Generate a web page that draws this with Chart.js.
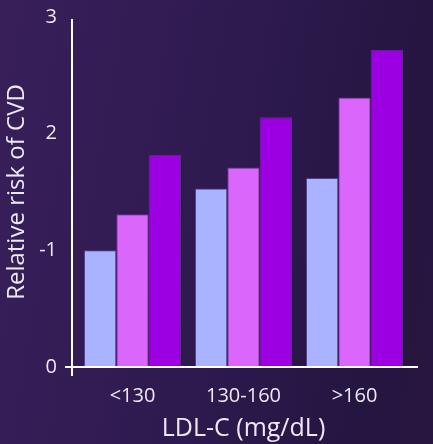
<!DOCTYPE html>
<html>
<head>
<meta charset="utf-8">
<script src="https://cdn.jsdelivr.net/npm/chart.js@4/dist/chart.umd.min.js"></script>
<style>
    html, body { margin: 0; padding: 0; }
    #wrap {
        width: 433px;
        height: 444px;
        background: linear-gradient(100deg, #381f5a 0%, #2e1a4f 50%, #251541 85%, #28163f 100%);
    }
</style>
</head>
<body>
<div id="wrap"><canvas id="chart" width="433" height="444"></canvas></div>
<script>
var categories = ["<130", "130-160", ">160"];
var seriesA = [1.0, 1.53, 1.62];
var seriesB = [1.31, 1.71, 2.31];
var seriesC = [1.82, 2.14, 2.72];
var yTickLabels = { 0: "0", 1: "-1", 2: "2", 3: "3" };

var fontFamily = "'Open Sans', sans-serif";
var textColor = "#ece8f4";

// Axis lines drawn slightly outside the plot area, like the original
const axisLines = {
    id: 'axisLines',
    afterDatasetsDraw: (chart) => {
        var { ctx, chartArea } = chart;
        var y = chart.scales.y;
        var x0 = chartArea.left - 5;
        var zero = y.getPixelForValue(0);
        ctx.save();
        ctx.strokeStyle = "#ffffff";
        ctx.lineWidth = 2;
        ctx.beginPath();
        ctx.moveTo(x0, y.getPixelForValue(3) + 2);
        ctx.lineTo(x0, zero + 9);
        ctx.moveTo(x0 - 7, zero);
        ctx.lineTo(chartArea.right + 8, zero);
        ctx.stroke();
        ctx.restore();
    }
};

new Chart(document.getElementById("chart"), {
    type: 'bar',
    data: {
        labels: categories,
        datasets: [
            { data: seriesA, backgroundColor: "#a9b3ff", borderColor: "rgba(110,90,170,0.6)", borderWidth: 1 },
            { data: seriesB, backgroundColor: "#da66fb", borderColor: "rgba(150,70,190,0.6)", borderWidth: 1 },
            { data: seriesC, backgroundColor: "#9c00e2", borderColor: "rgba(120,60,160,0.7)", borderWidth: 1 }
        ]
    },
    options: {
        responsive: false,
        animation: false,
        layout: { padding: { top: 17, right: 23, left: 0, bottom: 0 } },
        plugins: {
            legend: { display: false },
            tooltip: { enabled: false }
        },
        datasets: {
            bar: { categoryPercentage: 0.875, barPercentage: 1.0 }
        },
        scales: {
            x: {
                grid: { display: false, drawTicks: false },
                border: { display: false },
                ticks: {
                    color: textColor,
                    padding: 17,
                    font: { family: fontFamily, size: 20 }
                },
                title: {
                    display: true,
                    text: "LDL-C (mg/dL)",
                    color: textColor,
                    font: { family: fontFamily, size: 25 },
                    padding: { top: 0, bottom: 0 }
                },
                afterFit: (scale) => { scale.height = 77; }
            },
            y: {
                min: 0,
                max: 3,
                grid: { display: false, drawTicks: false },
                border: { display: false },
                ticks: {
                    stepSize: 1,
                    color: textColor,
                    padding: 20,
                    font: { family: fontFamily, size: 20 },
                    callback: (value) => yTickLabels[value]
                },
                title: {
                    display: true,
                    text: "Relative risk of CVD",
                    color: textColor,
                    font: { family: fontFamily, size: 24 },
                    padding: { top: 3, bottom: 0 }
                },
                afterFit: (scale) => {
                    scale.width = 77;
                    // tick padding would otherwise push the plot down
                    scale.paddingTop = 0;
                    scale.paddingBottom = 0;
                }
            }
        }
    },
    plugins: [axisLines]
});
</script>
</body>
</html>
